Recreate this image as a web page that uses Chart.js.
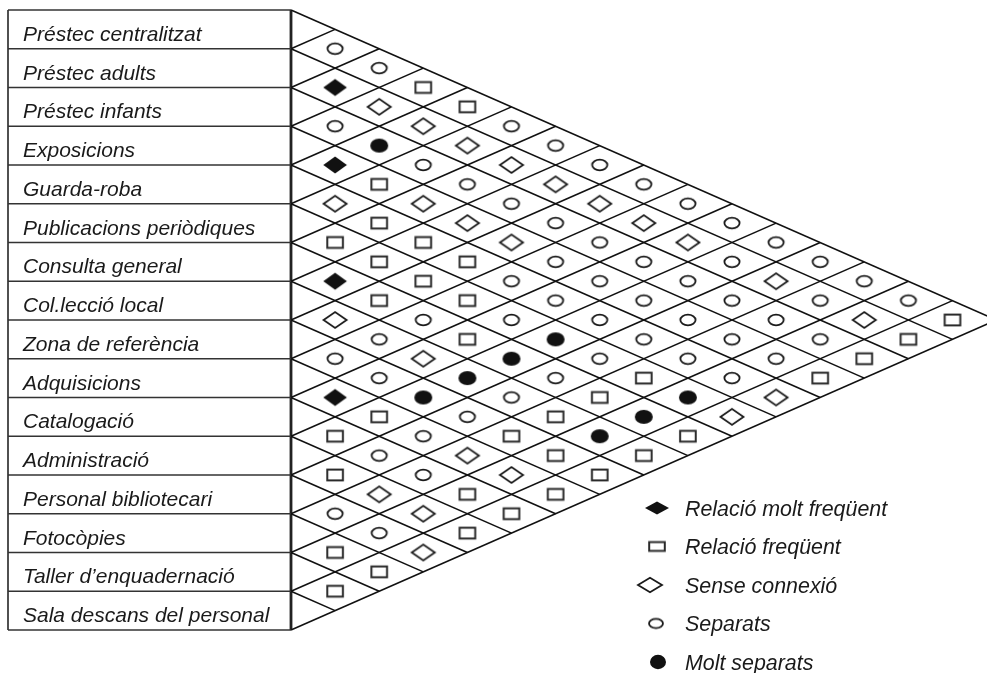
<!DOCTYPE html>
<html><head><meta charset="utf-8">
<script src="https://cdn.jsdelivr.net/npm/chart.js@4.4.0/dist/chart.umd.min.js"></script>
<style>html,body{margin:0;padding:0;background:#fff;overflow:hidden}</style>
</head><body>
<canvas id="c" width="987" height="673" style="width:987px;height:673px;display:block"></canvas>
<script>
// ---------- DATA ----------
const ROW_LABELS = [
  'Préstec centralitzat','Préstec adults','Préstec infants','Exposicions','Guarda-roba',
  'Publicacions periòdiques','Consulta general','Col.lecció local','Zona de referència',
  'Adquisicions','Catalogació','Administració','Personal bibliotecari','Fotocòpies',
  "Taller d’enquadernació",'Sala descans del personal'
];
const LEGEND_LABELS = ['Relació molt freqüent','Relació freqüent','Sense connexió','Separats','Molt separats'];
const REL_CODES = ['F','S','D','C','M']; // same order as LEGEND_LABELS
// REL_ROWS[i] = relation of row i with rows i+1 .. 15
const REL_ROWS = [
  'CCSSCCCCCCCCCCS',
  'FDDDDDDDDCDCDS',
  'CMCCCCCCCCCCS',
  'FSDDDCCCCCCS',
  'DSSSCCCCCCD',
  'SSSSCMCSMD',
  'FSCSMCSMS',
  'DCDMCSMS',
  'CCMCSSS',
  'FSCDDS',
  'SCCSS',
  'SDDS',
  'CCD',
  'SS',
  'S'
];

// ---------- LAYOUT ----------
const W = 987, H = 673;
const GRID_LEFT = 291, GRID_TOP = 10, GRID_BOTTOM = 630, BOX_LEFT = 8, HALF_W = 44.1;
const NROWS = ROW_LABELS.length;
const ROW_H = (GRID_BOTTOM - GRID_TOP) / NROWS;
const X_BOX = -(GRID_LEFT - BOX_LEFT) / HALF_W;

// symbol half-sizes [halfWidth, halfHeight] for grid and legend
const GRID_DIM = { F:[11.8,8.5], S:[7.8,5.4], D:[11.5,7.9], C:[7.6,5.3], M:[9,7] };
const LEG_DIM  = { F:[12,6.5], S:[7.8,4.4], D:[12,7.2], C:[7,4.6], M:[8,7.2] };
const LEG_X    = { F:657, S:657, D:650, C:656, M:658 };

function makeSymbol(code, dim) {
  const c = document.createElement('canvas');
  c.width = 32; c.height = 24;
  const g = c.getContext('2d');
  const cx = c.width / 2, cy = c.height / 2, a = dim[0], b = dim[1];
  g.strokeStyle = '#1a1a1a'; g.fillStyle = '#111';
  g.lineWidth = 1.8;
  if (code === 'F') {
    g.beginPath(); g.moveTo(cx - a, cy); g.lineTo(cx, cy - b); g.lineTo(cx + a, cy); g.lineTo(cx, cy + b); g.closePath(); g.fill();
  } else if (code === 'D') {
    g.beginPath(); g.moveTo(cx - a, cy); g.lineTo(cx, cy - b); g.lineTo(cx + a, cy); g.lineTo(cx, cy + b); g.closePath(); g.stroke();
  } else if (code === 'S') {
    g.lineWidth = 2; g.strokeStyle = '#2a2a2a';
    g.strokeRect(cx - a, cy - b, 2*a, 2*b);
  } else if (code === 'C') {
    g.beginPath(); g.ellipse(cx, cy, a, b, 0, 0, Math.PI*2); g.stroke();
  } else if (code === 'M') {
    g.beginPath(); g.ellipse(cx, cy, a, b, 0, 0, Math.PI*2); g.fill();
  }
  return c;
}
const SYM = {}, SYM_LEG = {};
REL_CODES.forEach(k => { SYM[k] = makeSymbol(k, GRID_DIM[k]); SYM_LEG[k] = makeSymbol(k, LEG_DIM[k]); });

// ---------- DATASETS ----------
const datasets = [];
function seg(x1, y1, x2, y2, color, width) {
  datasets.push({ data: [{x:x1,y:y1},{x:x2,y:y2}], showLine: true, pointRadius: 0,
    borderColor: color, borderWidth: width, fill: false, order: 2, clip: false });
}
// diagonal grid
for (let b = 0; b <= NROWS; b++) {
  if (b < NROWS) seg(0, b, NROWS - b, NROWS/2 + b/2, '#111', 1.6);
  if (b > 0) seg(0, b, b, b/2, '#111', 1.6);
}
// label box
for (let b = 0; b <= NROWS; b++) seg(X_BOX, b, 0, b, '#333', 1.7);
seg(X_BOX, 0, X_BOX, NROWS, '#333', 1.7);
seg(0, 0, 0, NROWS, '#222', 2.8);

// symbols
REL_CODES.forEach(code => {
  const pts = [];
  REL_ROWS.forEach((row, i) => {
    for (let k = 0; k < row.length; k++) {
      const j = i + 1 + k;
      if (row[k] === code) pts.push({ x: j - i, y: (i + j + 1) / 2 });
    }
  });
  datasets.push({ data: pts, pointStyle: SYM[code], pointRadius: 10, showLine: false, order: 1 });
});

// ---------- PLUGINS ----------
const textPlugin = {
  id: 'texts',
  afterDatasetsDraw(chart) {
    const ctx = chart.ctx, ys = chart.scales.y;
    ctx.save();
    ctx.fillStyle = '#1a1a1a';
    ctx.font = 'italic 21px "Liberation Sans", Arial, sans-serif';
    ctx.textBaseline = 'alphabetic'; ctx.textAlign = 'left';
    ROW_LABELS.forEach((lab, i) => {
      ctx.fillText(lab, 23, ys.getPixelForValue(i + 0.5) + 11.5);
    });
    // legend
    ctx.font = 'italic 21.4px "Liberation Sans", Arial, sans-serif';
    LEGEND_LABELS.forEach((lab, k) => {
      const code = REL_CODES[k];
      const y = 508 + k * 38.5;
      const s = SYM_LEG[code];
      ctx.drawImage(s, LEG_X[code] - s.width/2, y - s.height/2);
      ctx.fillText(lab, 685, y + 7.5);
    });
    ctx.restore();
  }
};

new Chart(document.getElementById('c'), {
  type: 'scatter',
  data: { datasets },
  options: {
    responsive: false, animation: false, devicePixelRatio: 1,
    layout: { padding: 0, autoPadding: false },
    plugins: { legend: { display: false }, tooltip: { enabled: false } },
    events: [],
    scales: {
      x: { type: 'linear', display: false, min: -GRID_LEFT / HALF_W, max: (W - GRID_LEFT) / HALF_W },
      y: { type: 'linear', display: false, reverse: true, min: -GRID_TOP / ROW_H, max: (H - GRID_TOP) / ROW_H }
    }
  },
  plugins: [textPlugin]
});
</script>
</body></html>
